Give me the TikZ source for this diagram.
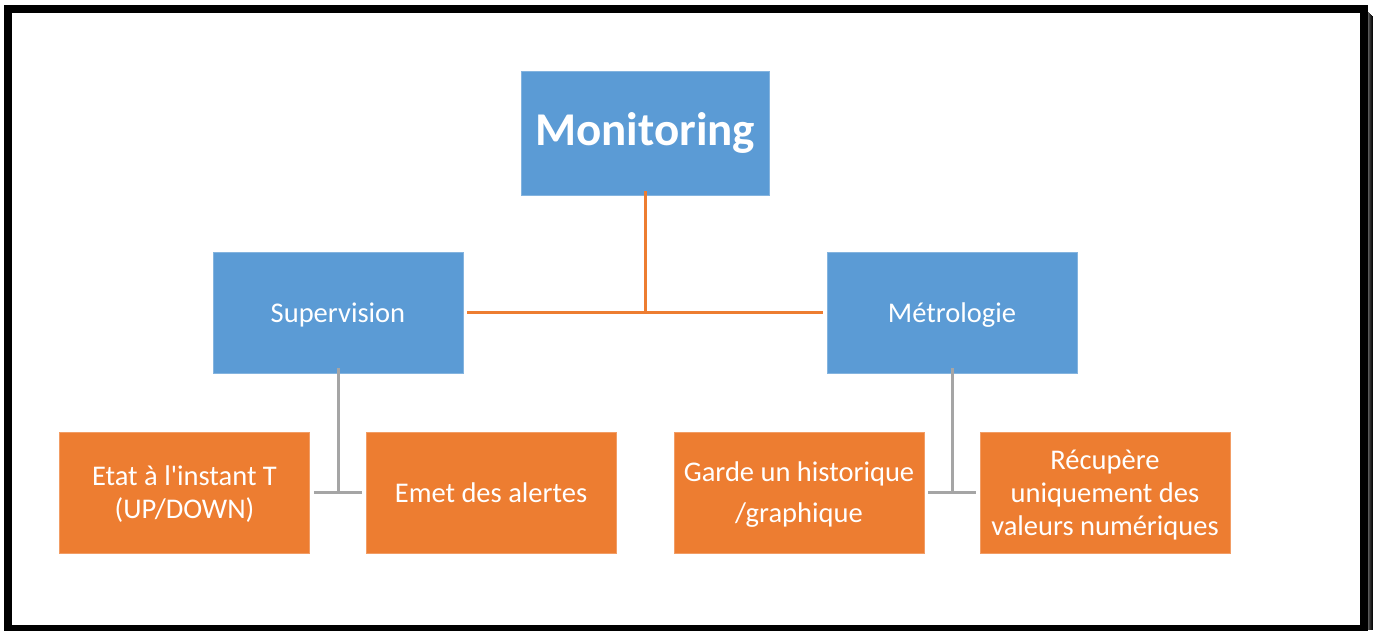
\documentclass[tikz,border=0pt]{standalone}
\usepackage{fontspec}
\setmainfont{Carlito}[Ligatures=TeXOff]
\definecolor{boxblue}{HTML}{5B9BD5}
\definecolor{boxorange}{HTML}{ED7D31}
\definecolor{linkgray}{HTML}{A5A5A5}
\begin{document}
\begin{tikzpicture}[x=1pt,y=-1pt,
  topbox/.style={fill=boxblue,draw=boxblue!75!white,line width=0.8pt,text=white,
    minimum width=248pt,minimum height=124pt,inner sep=0pt,
    font=\fontsize{47}{54}\selectfont\bfseries},
  midbox/.style={fill=boxblue,draw=boxblue!75!white,line width=0.8pt,text=white,
    minimum width=250pt,minimum height=121pt,inner sep=0pt,align=center,
    text depth=0pt,font=\fontsize{28.5}{33}\selectfont},
  leafbox/.style={fill=boxorange,draw=boxorange!75!white,line width=0.8pt,text=white,
    minimum width=250pt,minimum height=121pt,inner sep=0pt,align=center,
    text depth=0pt,font=\fontsize{28.5}{33}\selectfont},
  toplink/.style={draw=boxorange,line width=3pt},
  leaflink/.style={draw=linkgray,line width=3pt}]
\useasboundingbox (0,0) rectangle (1374,630);
% page frame with its soft shadow on the right
\foreach \i/\g in {1/55,2/65,3/75,4/83,5/90,6/96}
  \draw[black!\g!white,line width=1pt] (1367+\i-0.5,10+\i) -- (1367+\i-0.5,630);
\draw[line width=8pt] (8,9) rectangle (1363.5,629);
% boxes
\node[topbox]  (mon)  at (645,133)   {Monitoring};
\node[midbox]  (sup)  at (338,312.5) {Supervision};
\node[midbox]  (met)  at (952,312.5) {Métrologie};
\node[leafbox] (etat) at (184.5,492.5) {Etat à l'instant T\\(UP/DOWN)};
\node[leafbox] (emet) at (491,492.5) {Emet des alertes};
\node[leafbox] (hist) at (799,492.5) {Garde un historique\\[8pt]/graphique};
\node[leafbox] (recu) at (1105,492.5) {Récupère\\uniquement des\\valeurs numériques};
% first level links
\draw[toplink] ([xshift=4pt]sup.east) -- ([xshift=-4pt]met.west);
\draw[toplink] ([yshift=4pt]mon.south) -- (mon.south |- sup.east);
% second level links
\draw[leaflink] ([yshift=5pt]sup.south) -- (sup.south |- etat.east);
\draw[leaflink] ([xshift=4pt]etat.east) -- ([xshift=-4pt]emet.west);
\draw[leaflink] ([yshift=5pt]met.south) -- (met.south |- hist.east);
\draw[leaflink] ([xshift=4pt]hist.east) -- ([xshift=-4pt]recu.west);
\end{tikzpicture}
\end{document}
